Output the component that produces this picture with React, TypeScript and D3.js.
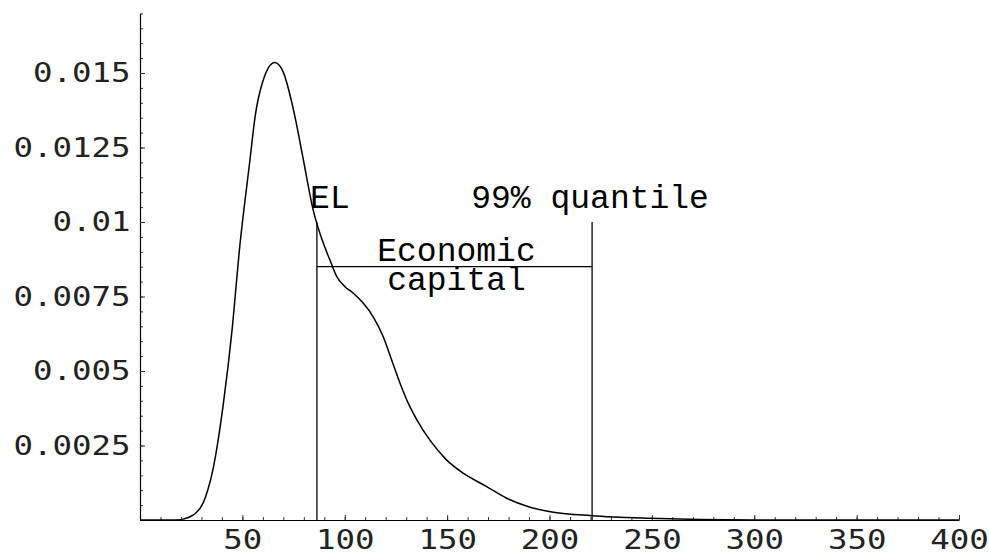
import React, { useEffect, useRef } from 'react';
import * as d3 from 'd3';

// loss distribution density
const lossValues: number[] = [
  0, 15, 20, 22, 24.4, 27, 29.3, 31, 33, 35.8, 38.2, 40.7, 44.8, 48.8, 53.7,
  56.2, 60, 65.8, 70, 75.7, 79.8, 84.6, 90, 92.8, 96.1, 100.1, 104.2, 109.1,
  113.9, 118.8, 122.9, 127, 131, 135.5, 141.6, 149.8, 157.9, 169.3, 179.1, 190.5,
  201.9, 220.6, 249, 273.5, 300, 400,
];
const densityValues: number[] = [
  0, 0, 0.00001, 0.00005, 0.00011, 0.00022, 0.00039, 0.0006, 0.00098, 0.00175,
  0.0027, 0.0039, 0.00627, 0.00923, 0.01208, 0.01353, 0.01472, 0.01535, 0.01502,
  0.01353, 0.01208, 0.0104, 0.0092, 0.00872, 0.00817, 0.00783, 0.00761, 0.00727,
  0.00682, 0.00615, 0.00537, 0.00459, 0.00392, 0.00333, 0.00268, 0.00201,
  0.00157, 0.00112, 0.00073, 0.00043, 0.00026, 0.000145, 0.00006, 0.00002,
  0.000003, 0,
];

const xTickValues = [50, 100, 150, 200, 250, 300, 350, 400];
const yTickValues = [0.0025, 0.005, 0.0075, 0.01, 0.0125, 0.015];
const yTickLabels = ['0.0025', '0.005', '0.0075', '0.01', '0.0125', '0.015'];

const expectedLoss = 86.4;
const quantile99 = 220.8;
const markerHeight = 0.01;
const capitalLevel = 0.0085;

const width = 989;
const height = 553;

const App: React.FC = () => {
  const svgRef = useRef<SVGSVGElement | null>(null);

  useEffect(() => {
    if (!svgRef.current) return;
    const svg = d3.select(svgRef.current);
    svg.selectAll('*').remove();

    const x = d3.scaleLinear().domain([0, 400]).range([140, 959]);
    const y = d3.scaleLinear().domain([0, 0.017]).range([520, 13.4]);

    const labelFont = "'DejaVu Sans Mono', monospace";
    const noteFont = "'Liberation Mono', 'Courier New', monospace";

    // minor ticks
    svg
      .append('g')
      .attr('transform', `translate(0,${y(0)})`)
      .call(
        d3.axisBottom(x).tickValues(d3.range(10, 401, 10)).tickSizeInner(-3).tickSizeOuter(0).tickFormat(() => '')
      )
      .call((g) => g.select('.domain').remove());
    svg
      .append('g')
      .attr('transform', `translate(${x(0)},0)`)
      .call(
        d3.axisLeft(y).tickValues(d3.range(1, 35).map((i) => i * 0.0005)).tickSizeInner(-3).tickSizeOuter(0).tickFormat(() => '')
      )
      .call((g) => g.select('.domain').remove());

    // major ticks + labels
    const xAxis = svg
      .append('g')
      .attr('transform', `translate(0,${y(0)})`)
      .call(
        d3.axisBottom(x).tickValues(xTickValues).tickSizeInner(-5).tickSizeOuter(0).tickPadding(10)
          .tickFormat((d) => String(d))
      );
    const yAxis = svg
      .append('g')
      .attr('transform', `translate(${x(0)},0)`)
      .call(
        d3.axisLeft(y).tickValues(yTickValues).tickSizeInner(-5).tickSizeOuter(0).tickPadding(8)
          .tickFormat((d, i) => yTickLabels[i])
      );

    [xAxis, yAxis].forEach((g) => {
      g.select('.domain').attr('stroke', '#000').attr('stroke-width', 1.2);
      g.selectAll('text')
        .attr('font-family', labelFont)
        .attr('font-size', 27)
        .attr('fill', '#222')
        .attr('transform', 'scale(1.2,1)');
    });
    svg.selectAll('.tick line').attr('stroke', '#333');

    // density curve
    const points: [number, number][] = lossValues.map((v, i) => [v, densityValues[i]]);
    const line = d3
      .line<[number, number]>()
      .x((d) => x(d[0]))
      .y((d) => y(Math.max(0, d[1])))
      .curve(d3.curveMonotoneX);
    svg
      .append('path')
      .datum(points)
      .attr('d', line)
      .attr('fill', 'none')
      .attr('stroke', '#000')
      .attr('stroke-width', 1.5);

    // EL and quantile markers
    [expectedLoss, quantile99].forEach((v) => {
      svg
        .append('line')
        .attr('x1', x(v))
        .attr('x2', x(v))
        .attr('y1', y(0))
        .attr('y2', y(markerHeight))
        .attr('stroke', '#000')
        .attr('stroke-width', 1.3);
    });
    svg
      .append('line')
      .attr('x1', x(expectedLoss))
      .attr('x2', x(quantile99))
      .attr('y1', y(capitalLevel))
      .attr('y2', y(capitalLevel))
      .attr('stroke', '#000')
      .attr('stroke-width', 1.3);

    const notes = svg
      .append('g')
      .attr('font-family', noteFont)
      .attr('font-size', 33)
      .attr('fill', '#000');
    const mid = (x(expectedLoss) + x(quantile99)) / 2;
    const addNote = (label: string, cx: number, cy: number) =>
      notes
        .append('text')
        .attr('x', cx)
        .attr('y', cy)
        .attr('text-anchor', 'middle')
        .text(label);
    addNote('EL', x(expectedLoss) + 13, y(markerHeight) - 14);
    addNote('99% quantile', x(quantile99) - 2, y(markerHeight) - 14);
    addNote('Economic', mid + 2, y(capitalLevel) - 6);
    addNote('capital', mid + 2, y(capitalLevel) + 23);
  }, []);

  return (
    <svg
      ref={svgRef}
      width={width}
      height={height}
      style={{ position: 'absolute', left: 0, top: 0, background: '#fff' }}
    />
  );
};

export default App;
